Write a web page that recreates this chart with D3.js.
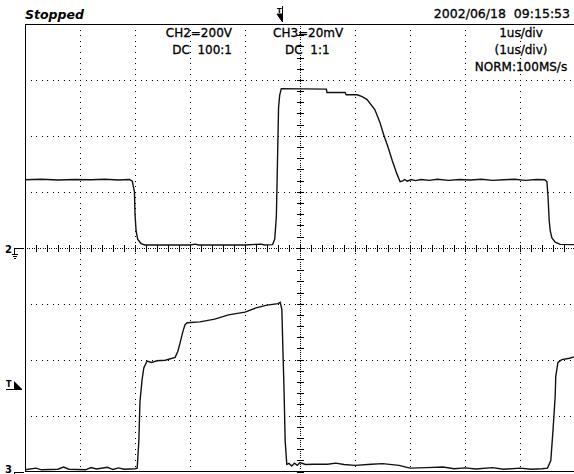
<!DOCTYPE html>
<html>
<head>
<meta charset="utf-8">
<script src="https://cdn.jsdelivr.net/npm/d3@7"></script>
<style>
  body { margin: 0; background: #fff; }
  text { font-family: "DejaVu Sans", sans-serif; fill: #000; }
  text.lbl { stroke: #000; stroke-width: 0.3px; }
</style>
</head>
<body>
<div id="scope"></div>
<script>
// CH2 trace: [time (us), volts]
const ch2Points = [
    [-5.00,243],[-4.70,245],[-4.40,242],[-4.10,244],[-3.80,243],[-3.55,245],[-3.30,242],[-3.10,244],
    [-3.05,238],[-3.01,200],[-3.00,120],[-2.98,60],[-2.95,30],[-2.89,15],[-2.82,10],[-2.00,10],
    [-1.90,13],[-1.85,10],[-1.00,10],[-0.70,13],[-0.65,10],[-0.50,11],[-0.46,30],[-0.43,110],
    [-0.41,300],[-0.39,500],[-0.37,545],[-0.34,569],[0.48,567],[0.49,555],[0.82,555],[0.84,547],
    [1.04,547],[1.13,540],[1.22,530],[1.36,494],[1.45,450],[1.52,405],[1.60,360],[1.68,310],
    [1.76,265],[1.82,236],[1.86,238],[1.90,244],[1.95,238],[2.02,244],[2.10,240],[2.20,244],
    [2.35,241],[2.50,245],[2.70,241],[2.90,244],[3.10,242],[3.30,245],[3.50,241],[3.70,243],
    [3.90,245],[4.10,241],[4.30,244],[4.45,243],[4.49,236],[4.51,180],[4.53,100],[4.55,60],
    [4.58,35],[4.64,20],[4.73,12],[4.98,11]
];

// CH3 trace: [time (us), millivolts]
const ch3Points = [
    [-5.00,0.6],[-4.80,1.2],[-4.70,0.6],[-4.40,0.8],[-4.30,1.6],[-4.20,0.8],[-3.90,0.6],[-3.80,1.4],
    [-3.70,0.9],[-3.50,1.5],[-3.40,0.7],[-3.30,1.3],[-3.20,0.8],[-3.00,1.0],[-2.96,1.2],[-2.93,11],
    [-2.91,25],[-2.87,33],[-2.84,37],[-2.78,39.5],[-2.70,39],[-2.60,39.6],[-2.45,39.8],[-2.27,40.8],
    [-2.22,43],[-2.18,46],[-2.13,50],[-2.09,52.5],[-2.05,53.2],[-1.82,53.5],[-1.55,54.5],[-1.30,56],
    [-1.00,57],[-0.80,58.5],[-0.60,59.5],[-0.40,60],[-0.36,60.5],[-0.33,58],[-0.31,43],[-0.29,29],
    [-0.27,11],[-0.24,2.5],[-0.20,2.9],[-0.15,2.0],[-0.10,3.0],[-0.05,2.2],[0.00,3.2],[0.10,2.5],
    [0.25,2.6],[0.50,2.6],[0.65,3.0],[0.80,2.5],[1.00,2.2],[1.30,2.6],[1.50,2.8],[1.80,2.2],
    [2.00,1.2],[2.30,1.4],[2.60,1.6],[2.80,1.0],[3.00,1.3],[3.20,0.9],[3.50,1.4],[3.70,0.8],
    [4.00,1.2],[4.20,0.8],[4.40,1.0],[4.50,1.2],[4.56,3.9],[4.60,14.7],[4.64,27],[4.65,34],
    [4.69,39],[4.76,40],[4.90,40.5],[4.98,41]
];

const statusText = "Stopped";
const dateText = "2002/06/18  09:15:53";
const ch2Labels = ["CH2=200V", "DC  100:1"];
const ch3Labels = ["CH3=20mV", "DC  1:1"];
const timeLabels = ["1us/div", "(1us/div)", "NORM:100MS/s"];

const width = 574;
const height = 474;
const plotLeft = 25, plotRight = 575, plotTop = 24, plotBottom = 471.5;

const x = d3.scaleLinear().domain([-5, 5]).range([plotLeft, plotRight]);
const yDiv = d3.scaleLinear().domain([-4, 4]).range([plotBottom, plotTop]);
const y2 = d3.scaleLinear().domain([-800, 800]).range([plotBottom, plotTop]);   // 200V/div, ground at centre
const y3 = d3.scaleLinear().domain([0, 160]).range([plotBottom, plotTop]);      // 20mV/div, ground at bottom

const svg = d3.select('#scope').append('svg')
    .attr('width', width)
    .attr('height', height);

svg.append('rect').attr('width', width).attr('height', height).attr('fill', '#fff');

// dotted graticule
const grid = svg.append('g').attr('stroke', '#000').attr('shape-rendering', 'crispEdges');
grid.selectAll('line.v')
    .data([-4, -3, -2, -1, 1, 2, 3, 4])
    .join('line')
    .attr('x1', d => Math.round(x(d)) + 0.5).attr('x2', d => Math.round(x(d)) + 0.5)
    .attr('y1', plotTop).attr('y2', plotBottom)
    .attr('stroke-dasharray', '1,4.59');
grid.selectAll('line.h')
    .data([-3, -2, -1, 1, 2, 3])
    .join('line')
    .attr('x1', plotLeft).attr('x2', plotRight)
    .attr('y1', d => Math.round(yDiv(d)) + 0.5).attr('y2', d => Math.round(yDiv(d)) + 0.5)
    .attr('stroke-dasharray', '1,4.5');

// centre axes with minor ticks
const cx = Math.round(x(0)) + 0.5, cy = Math.round(yDiv(0)) + 0.5;
grid.append('line').attr('x1', plotLeft).attr('x2', plotRight).attr('y1', cy).attr('y2', cy)
    .attr('stroke-dasharray', '1,1.2');
grid.append('line').attr('x1', cx).attr('x2', cx).attr('y1', plotTop).attr('y2', plotBottom)
    .attr('stroke-dasharray', '1,1.2');
grid.selectAll('line.tx')
    .data(d3.range(-5, 5.01, 0.2))
    .join('line')
    .attr('x1', d => Math.round(x(d)) + 0.5).attr('x2', d => Math.round(x(d)) + 0.5)
    .attr('y1', cy - 3.5).attr('y2', cy + 3.5);
grid.selectAll('line.ty')
    .data(d3.range(-4, 4.01, 0.2))
    .join('line')
    .attr('x1', cx - 3.5).attr('x2', cx + 3.5)
    .attr('y1', d => Math.round(yDiv(d)) + 0.5).attr('y2', d => Math.round(yDiv(d)) + 0.5);

// frame
grid.append('path')
    .attr('d', `M${plotRight},${plotTop + 0.5}H${plotLeft + 0.5}V${plotBottom}H${plotRight}`)
    .attr('fill', 'none').attr('stroke-width', 1.2);

// traces
svg.append('clipPath').attr('id', 'clip')
    .append('rect').attr('x', plotLeft).attr('y', plotTop)
    .attr('width', plotRight - plotLeft).attr('height', plotBottom - plotTop);

svg.append('path')
    .datum(ch2Points)
    .attr('clip-path', 'url(#clip)')
    .attr('d', d3.line().x(d => x(d[0])).y(d => y2(d[1])))
    .attr('fill', 'none').attr('stroke', '#111').attr('stroke-width', 1.4);

svg.append('path')
    .datum(ch3Points)
    .attr('clip-path', 'url(#clip)')
    .attr('d', d3.line().x(d => x(d[0])).y(d => y3(d[1])))
    .attr('fill', 'none').attr('stroke', '#111').attr('stroke-width', 1.4);

// header
svg.append('text').attr('x', 25).attr('y', 19)
    .attr('font-size', 12.5).attr('font-weight', 'bold').attr('font-style', 'italic')
    .text(statusText);
svg.append('text').attr('class', 'lbl').attr('x', 570).attr('y', 18).attr('text-anchor', 'end')
    .attr('font-size', 12.5).attr('xml:space', 'preserve')
    .text(dateText);

// trigger position marker
svg.append('text').attr('x', 277).attr('y', 13).attr('font-size', 7).attr('font-weight', 'bold').text('T');
svg.append('path').attr('d', 'M282.5,6V22L277,14H282.5Z').attr('fill', '#000').attr('stroke', '#000');

// channel settings
svg.selectAll('text.ch2')
    .data(ch2Labels)
    .join('text')
    .attr('class', 'lbl')
    .attr('x', 232).attr('y', (d, i) => 37 + i * 17)
    .attr('text-anchor', 'end').attr('font-size', 12).attr('xml:space', 'preserve')
    .text(d => d);
svg.selectAll('text.ch3')
    .data(ch3Labels)
    .join('text')
    .attr('class', 'lbl')
    .attr('x', (d, i) => i === 0 ? 273 : 285).attr('y', (d, i) => 37 + i * 17)
    .attr('font-size', 12).attr('xml:space', 'preserve')
    .text(d => d);
svg.selectAll('text.tb')
    .data(timeLabels)
    .join('text')
    .attr('class', 'lbl')
    .attr('x', 521).attr('y', (d, i) => 37 + i * 17)
    .attr('text-anchor', 'middle').attr('font-size', 12)
    .text(d => d);

// left side markers: ground levels and trigger level
function groundMark(label, yy, textY) {
    svg.append('text').attr('x', 5).attr('y', textY).attr('font-size', 10).attr('font-weight', 'bold').text(label);
    svg.append('path')
        .attr('d', `M24,${yy + 0.5}H14.5V${yy + 6}M12,${yy + 6.5}H18M13,${yy + 8.5}H17M14,${yy + 10.5}H16`)
        .attr('fill', 'none').attr('stroke', '#000').attr('shape-rendering', 'crispEdges');
}
groundMark('2', Math.round(y2(0)), Math.round(y2(0)) + 5);
groundMark('3', Math.round(y3(0)), 473);

svg.append('text').attr('x', 6).attr('y', 387).attr('font-size', 8).attr('font-weight', 'bold').text('T');
svg.append('path').attr('d', 'M6,389.5H22').attr('stroke', '#000');
svg.append('path').attr('d', 'M14,381V389H22Z').attr('fill', '#000');
</script>
</body>
</html>
